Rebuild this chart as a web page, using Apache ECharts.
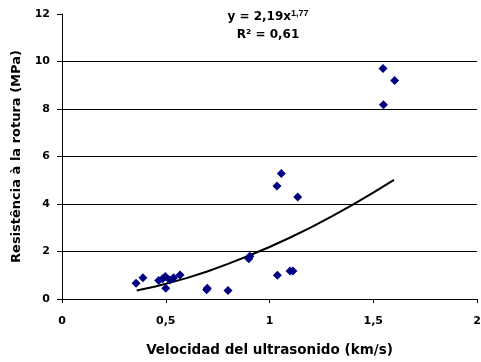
<!DOCTYPE html>
<html>
<head>
<meta charset="utf-8">
<script src="https://cdn.jsdelivr.net/npm/echarts@6/dist/echarts.min.js"></script>
<style>html,body{margin:0;padding:0;background:#fff}#c{width:481px;height:362px}</style>
</head>
<body>
<div id="c"></div>
<script>
// Measured points (velocity km/s, strength MPa)
var velX = [0.357, 0.39, 0.466, 0.485, 0.498, 0.50, 0.52, 0.538, 0.569, 0.697, 0.70, 0.80, 0.90, 0.905, 1.036, 1.057, 1.136, 1.038, 1.099, 1.113, 1.547, 1.603, 1.549];
var strY = [0.66, 0.90, 0.78, 0.85, 0.95, 0.45, 0.80, 0.90, 1.01, 0.39, 0.45, 0.36, 1.70, 1.80, 4.76, 5.28, 4.30, 1.00, 1.18, 1.18, 9.71, 9.20, 8.18];
// Trend line points
var trendX = [0.36, 0.45, 0.5, 0.6, 0.7, 0.8, 0.9, 1.0, 1.1, 1.2, 1.3, 1.4, 1.5, 1.6];
var trendY = [0.36, 0.53, 0.64, 0.88, 1.16, 1.48, 1.82, 2.19, 2.59, 3.02, 3.48, 3.96, 4.48, 5.02];
var xTicks = [0, 0.5, 1, 1.5, 2];
var yTicks = [0, 2, 4, 6, 8, 10, 12];
var eqText = 'y = 2,19x';
var eqExp = '1,77';
var r2Text = 'R² = 0,61';
var xTitle = 'Velocidad del ultrasonido (km/s)';
var yTitle = 'Resistência à la rotura (MPa)';

var scatterData = velX.map(function(v, i){ return [v, strY[i]]; });
var trendData = trendX.map(function(v, i){ return [v, trendY[i]]; });
var font = '"DejaVu Sans", "Liberation Sans", sans-serif';
var fontA = '"Liberation Sans", Arial, sans-serif';

var chart = echarts.init(document.getElementById('c'), null, {renderer: 'canvas'});
chart.setOption({
  animation: false,
  backgroundColor: '#fff',
  grid: {left: 62, right: 4, top: 14, bottom: 63, containLabel: false, outerBoundsMode: 'none'},
  xAxis: {
    type: 'value', min: xTicks[0], max: xTicks[xTicks.length-1], interval: 0.5,
    name: xTitle, nameLocation: 'middle', nameGap: 44, nameMoveOverlap: false,
    nameTextStyle: {fontFamily: font, fontWeight: 'bold', fontSize: 13.5, color: '#000'},
    axisLine: {show: true, lineStyle: {color: '#000', width: 1}},
    axisTick: {show: true, inside: false, length: 4, lineStyle: {color: '#000'}},
    axisLabel: {fontFamily: font, fontWeight: 'bold', fontSize: 11, color: '#000', margin: 17,
      formatter: function(v){ return String(v).replace('.', ','); }},
    splitLine: {show: false}
  },
  yAxis: {
    type: 'value', min: yTicks[0], max: yTicks[yTicks.length-1], interval: 2,
    name: yTitle, nameLocation: 'middle', nameGap: 39, nameRotate: 90, nameMoveOverlap: false,
    nameTextStyle: {fontFamily: font, fontWeight: 'bold', fontSize: 13, color: '#000'},
    axisLine: {show: true, lineStyle: {color: '#000', width: 1}},
    axisTick: {show: true, inside: false, length: 5, lineStyle: {color: '#000'}},
    axisLabel: {fontFamily: font, fontWeight: 'bold', fontSize: 11, color: '#000', margin: 12},
    splitLine: {show: true, lineStyle: {color: '#000', width: 1},
      showMaxLine: false, showMinLine: false}
  },
  graphic: [{
    type: 'text', z: 100,
    style: {
      x: 268, y: 17,
      text: '{a|' + eqText + '}{s|' + eqExp + '}',
      rich: {
        a: {fontFamily: font, fontWeight: 'bold', fontSize: 12, fill: '#000'},
        s: {fontFamily: fontA, fontWeight: 'bold', fontSize: 9, fill: '#000', padding: [0,0,6,0]}
      },
      align: 'center', verticalAlign: 'middle'
    }
  }, {
    type: 'text', z: 100,
    style: {
      x: 268, y: 35,
      text: r2Text,
      fontFamily: font, fontWeight: 'bold', fontSize: 12, fill: '#000',
      align: 'center', verticalAlign: 'middle'
    }
  }],
  series: [{
    type: 'line', data: trendData, showSymbol: false, smooth: false,
    lineStyle: {color: '#000', width: 2}, z: 3
  }, {
    type: 'scatter', data: scatterData, symbol: 'diamond', symbolSize: 9,
    itemStyle: {color: '#000080', opacity: 1}, z: 4
  }]
});
</script>
</body>
</html>
